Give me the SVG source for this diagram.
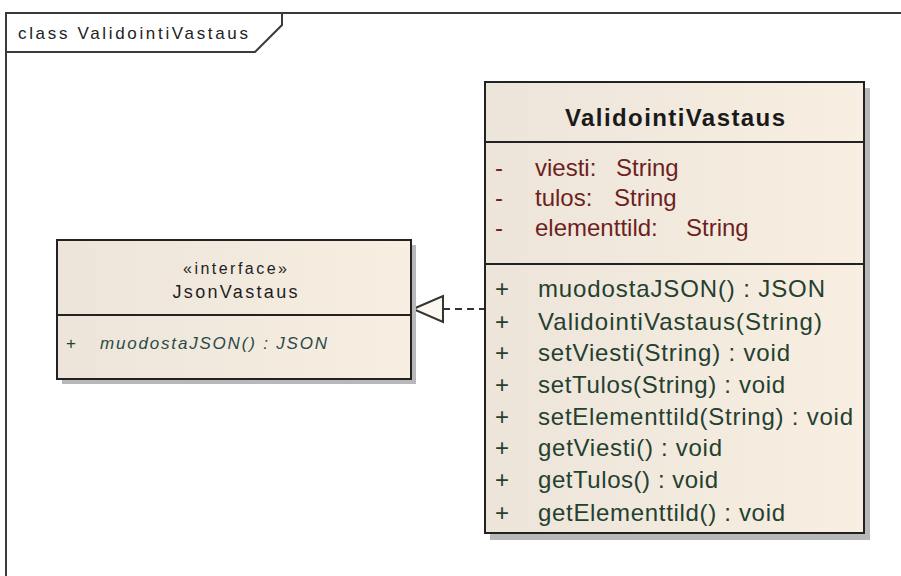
<svg xmlns="http://www.w3.org/2000/svg" width="901" height="576" viewBox="0 0 901 576">
  <defs>
    <linearGradient id="boxFill" x1="0" y1="0" x2="1" y2="0">
      <stop offset="0" stop-color="#ede5da"/>
      <stop offset="1" stop-color="#f8eee2"/>
    </linearGradient>
    <style>
      .frame { fill: none; stroke: #3a3a3a; stroke-width: 2; }
      .box { fill: url(#boxFill); stroke: #222; stroke-width: 2; }
      .shadow { fill: #b8b8b8; }
      .sep { stroke: #222; stroke-width: 2; }
      .txt { font-family: "Liberation Sans", Arial, sans-serif; }
      .title { font-weight: bold; fill: #1a1a1a; }
      .attr { fill: #6e1f1f; }
      .oper { fill: #24402f; }
      .iface { fill: #1e1e1e; }
      .abstract { font-style: italic; fill: #2a4a48; }
      .dash { stroke: #333; stroke-width: 2; stroke-dasharray: 7 5; fill: none; }
      .head { fill: #fbf6ee; stroke: #333; stroke-width: 2; }
    </style>
  </defs>

  <rect width="901" height="576" fill="#ffffff"/>

  <!-- diagram frame with name tab -->
  <g id="frame">
    <path class="frame" d="M6,576 V13 H901"/>
    <path class="frame" d="M6,52 H255 L282,25 V13"/>
    <text class="txt" x="18" y="39" font-size="17" fill="#222" textLength="230" lengthAdjust="spacing">class ValidointiVastaus</text>
  </g>

  <!-- realization: ValidointiVastaus implements JsonVastaus -->
  <g id="connectors">
    <line class="dash" x1="443" y1="309" x2="485" y2="309"/>
    <polygon class="head" points="413,309 443,296 443,322"/>
  </g>

  <!-- interface JsonVastaus -->
  <g id="JsonVastaus">
    <rect class="shadow" x="62" y="245" width="354" height="139"/>
    <rect class="box" x="57" y="240" width="354" height="139"/>
    <line class="sep" x1="57" y1="315" x2="411" y2="315"/>
    <text class="txt iface" x="235" y="274" font-size="16" text-anchor="middle" textLength="104" lengthAdjust="spacing">«interface»</text>
    <text class="txt iface" x="235" y="298" font-size="18" text-anchor="middle" textLength="125" lengthAdjust="spacing">JsonVastaus</text>
    <text class="txt oper" x="66" y="349" font-size="17">+</text>
    <text class="txt abstract" x="100" y="349" font-size="17" textLength="227" lengthAdjust="spacing">muodostaJSON() : JSON</text>
  </g>

  <!-- class ValidointiVastaus -->
  <g id="ValidointiVastaus">
    <rect class="shadow" x="490" y="88" width="380" height="452"/>
    <rect class="box" x="485" y="82" width="379" height="451"/>
    <line class="sep" x1="485" y1="142" x2="864" y2="142"/>
    <line class="sep" x1="485" y1="264" x2="864" y2="264"/>
    <text class="txt title" x="675" y="126" font-size="24" text-anchor="middle" textLength="220" lengthAdjust="spacing">ValidointiVastaus</text>

    <!-- attributes: name and type columns placed separately -->
    <g class="txt attr" font-size="24">
      <text x="495" y="176">-</text>
      <text y="176"><tspan x="535">viesti:</tspan> <tspan x="616">String</tspan></text>
      <text x="495" y="206">-</text>
      <text y="206"><tspan x="535">tulos:</tspan> <tspan x="614">String</tspan></text>
      <text x="495" y="236">-</text>
      <text y="236"><tspan x="535">elementtild:</tspan> <tspan x="686">String</tspan></text>
    </g>

    <g class="txt oper" font-size="24">
      <text x="495" y="297">+</text>
      <text x="538" y="297" textLength="287" lengthAdjust="spacing">muodostaJSON() : JSON</text>
      <text x="495" y="330">+</text>
      <text x="538" y="330" textLength="284" lengthAdjust="spacing">ValidointiVastaus(String)</text>
      <text x="495" y="361">+</text>
      <text x="538" y="361" textLength="252" lengthAdjust="spacing">setViesti(String) : void</text>
      <text x="495" y="393">+</text>
      <text x="538" y="393" textLength="247" lengthAdjust="spacing">setTulos(String) : void</text>
      <text x="495" y="425">+</text>
      <text x="538" y="425" textLength="315" lengthAdjust="spacing">setElementtild(String) : void</text>
      <text x="495" y="456">+</text>
      <text x="538" y="456" textLength="184" lengthAdjust="spacing">getViesti() : void</text>
      <text x="495" y="488">+</text>
      <text x="538" y="488" textLength="180" lengthAdjust="spacing">getTulos() : void</text>
      <text x="495" y="521">+</text>
      <text x="538" y="521" textLength="247" lengthAdjust="spacing">getElementtild() : void</text>
    </g>
  </g>
</svg>
